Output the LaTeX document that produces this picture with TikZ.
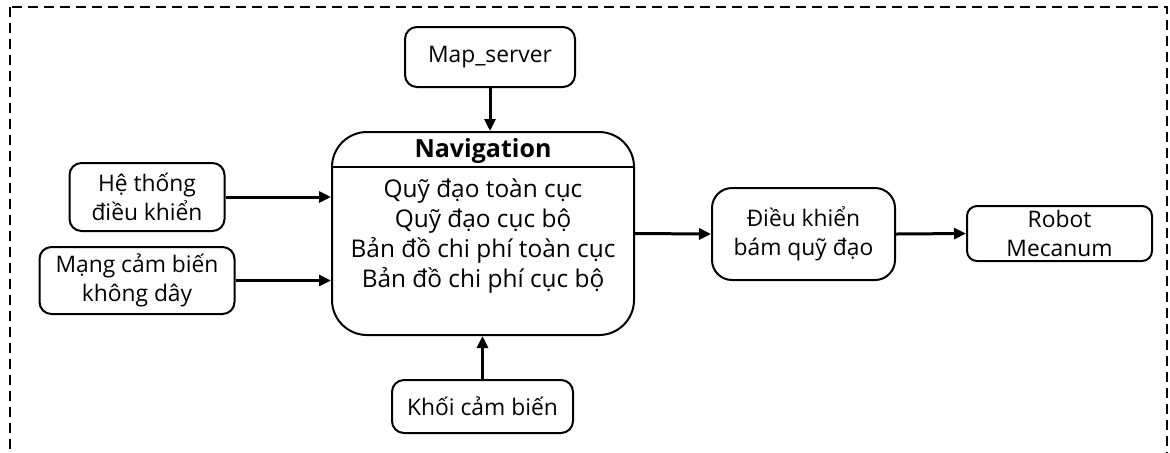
\documentclass[tikz,border=0pt]{standalone}
\usepackage{fontspec}
\setmainfont{Open Sans}
\usetikzlibrary{arrows.meta}

\begin{document}
\begin{tikzpicture}[
	  x=0.5pt, y=-0.5pt,
	  blk/.style={draw, line width=1pt, rounded corners=6pt, align=center,
	    inner sep=0pt, font=\fontsize{11.4}{14.5}\selectfont},
	  flow/.style={-{Triangle[length=6pt,width=5.5pt]}, line width=1.5pt},
	]
	\useasboundingbox (0,0) rectangle (1170,452);
	\clip (0,0) rectangle (1170,452);
	\draw [dashed, line width=0.8pt, dash pattern=on 5pt off 3pt] (10,7) rectangle (1167,480);

	\node [blk, minimum width=85pt, minimum height=30pt] (map) at (490,57) {Map\_server};
	\node [blk, minimum width=77.5pt, minimum height=34pt] (ctrl) at (147,197) {Hệ thống\\điều khiển};
	\node [blk, minimum width=97.5pt, minimum height=33.5pt] (wsn) at (137,280.5) {Mạng cảm biến\\không dây};
	\node [blk, minimum width=151pt, minimum height=101.5pt, rounded corners=17.5pt] (nav) at (483,233.5) {};
	\node [blk, minimum width=90.5pt, minimum height=26.5pt] (sens) at (482.5,406.5) {Khối cảm biến};
	\node [blk, minimum width=91.5pt, minimum height=46pt, rounded corners=10pt] (track) at (803.5,234) {Điều khiển\\bám quỹ đạo};
	\node [blk, minimum width=92.5pt, minimum height=27.5pt, rounded corners=5pt] (robot) at (1059.5,233.5) {Robot\\Mecanum};

	\coordinate (hdr) at (0,167);
	\draw [line width=1pt] (nav.west |- hdr) -- (nav.east |- hdr);
	\node [font=\bfseries\fontsize{12.5}{16}\selectfont] (navtitle) at (483,151) {Navigation};
	\node [align=center, font=\fontsize{12.2}{15}\selectfont] (navbody) at (483,236) {Quỹ đạo toàn cục\\Quỹ đạo cục bộ\\Bản đồ chi phí toàn cục\\Bản đồ chi phí cục bộ};

	\draw [flow] (map.south) -- (map.south |- nav.north);
	\draw [flow] (sens.north) -- (sens.north |- nav.south);
	\draw [flow] (ctrl.east) -- (ctrl.east -| nav.west);
	\draw [flow] (wsn.east) -- (wsn.east -| nav.west);
	\draw [flow] (nav.east) -- (track.west);
	\draw [flow] (track.east) -- (robot.west);
	\end{tikzpicture}
\end{document}
